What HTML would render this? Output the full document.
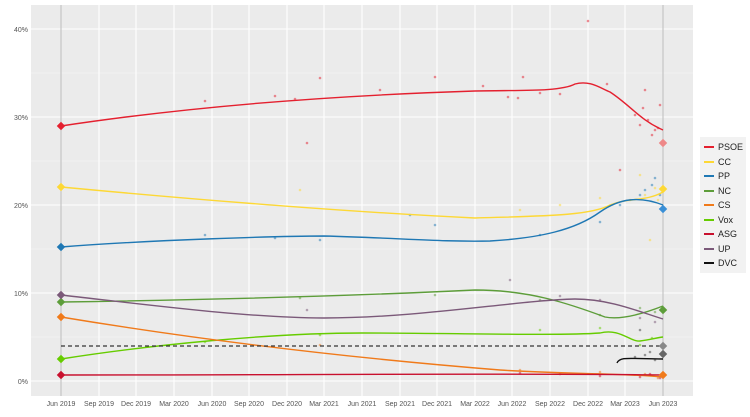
<!DOCTYPE html>
<html><head><meta charset="utf-8"><style>
body{margin:0;background:#fff}
svg{display:block;font-family:"Liberation Sans",sans-serif}
</style></head><body>
<svg width="750" height="417" viewBox="0 0 750 417">
<rect x="31" y="5" width="662" height="391" fill="#ebebeb"/>
<g stroke="#f5f5f5" stroke-width="0.6">
<line x1="31" x2="693" y1="337" y2="337"/><line x1="31" x2="693" y1="249" y2="249"/><line x1="31" x2="693" y1="161" y2="161"/><line x1="31" x2="693" y1="73" y2="73"/>
</g>
<g stroke="#fff" stroke-width="1.1">
<line x1="31" x2="693" y1="381" y2="381"/><line x1="31" x2="693" y1="293" y2="293"/><line x1="31" x2="693" y1="205" y2="205"/><line x1="31" x2="693" y1="117" y2="117"/><line x1="31" x2="693" y1="29" y2="29"/>
<line x1="61" x2="61" y1="5" y2="396"/><line x1="99" x2="99" y1="5" y2="396"/><line x1="136" x2="136" y1="5" y2="396"/><line x1="174" x2="174" y1="5" y2="396"/><line x1="212" x2="212" y1="5" y2="396"/><line x1="249" x2="249" y1="5" y2="396"/><line x1="287" x2="287" y1="5" y2="396"/><line x1="324" x2="324" y1="5" y2="396"/><line x1="362" x2="362" y1="5" y2="396"/><line x1="400" x2="400" y1="5" y2="396"/><line x1="437" x2="437" y1="5" y2="396"/><line x1="475" x2="475" y1="5" y2="396"/><line x1="512" x2="512" y1="5" y2="396"/><line x1="550" x2="550" y1="5" y2="396"/><line x1="588" x2="588" y1="5" y2="396"/><line x1="625" x2="625" y1="5" y2="396"/><line x1="663" x2="663" y1="5" y2="396"/>
</g>
<line x1="61" x2="61" y1="5" y2="396" stroke="#bbb" stroke-width="1"/>
<line x1="663" x2="663" y1="5" y2="396" stroke="#bbb" stroke-width="1"/>
<g fill="#555" font-size="7" text-anchor="end">
<text x="28" y="384">0%</text><text x="28" y="296">10%</text><text x="28" y="208">20%</text><text x="28" y="120">30%</text><text x="28" y="32">40%</text>
</g>
<g fill="#555" font-size="7" text-anchor="middle">
<text x="61" y="406">Jun 2019</text><text x="99" y="406">Sep 2019</text><text x="136" y="406">Dec 2019</text><text x="174" y="406">Mar 2020</text><text x="212" y="406">Jun 2020</text><text x="249" y="406">Sep 2020</text><text x="287" y="406">Dec 2020</text><text x="324" y="406">Mar 2021</text><text x="362" y="406">Jun 2021</text><text x="400" y="406">Sep 2021</text><text x="437" y="406">Dec 2021</text><text x="475" y="406">Mar 2022</text><text x="512" y="406">Jun 2022</text><text x="550" y="406">Sep 2022</text><text x="588" y="406">Dec 2022</text><text x="625" y="406">Mar 2023</text><text x="663" y="406">Jun 2023</text>
</g>
<g opacity="0.5">
<g fill="#e4202f">
<circle cx="205" cy="101" r="1.3"/><circle cx="275" cy="96" r="1.3"/><circle cx="295" cy="99" r="1.3"/><circle cx="320" cy="78" r="1.3"/><circle cx="435" cy="77" r="1.3"/><circle cx="523" cy="77" r="1.3"/><circle cx="588" cy="21" r="1.3"/><circle cx="607" cy="84" r="1.3"/><circle cx="645" cy="90" r="1.3"/><circle cx="655" cy="130" r="1.3"/><circle cx="307" cy="143" r="1.3"/><circle cx="508" cy="97" r="1.3"/><circle cx="540" cy="93" r="1.3"/><circle cx="380" cy="90" r="1.3"/><circle cx="483" cy="86" r="1.3"/><circle cx="518" cy="98" r="1.3"/><circle cx="560" cy="94" r="1.3"/><circle cx="635" cy="115" r="1.3"/><circle cx="640" cy="125" r="1.3"/><circle cx="648" cy="120" r="1.3"/><circle cx="652" cy="135" r="1.3"/><circle cx="658" cy="128" r="1.3"/><circle cx="660" cy="105" r="1.3"/><circle cx="643" cy="108" r="1.3"/><circle cx="620" cy="170" r="1.3"/>
</g>
<g fill="#fdd835">
<circle cx="300" cy="190" r="1.3"/><circle cx="520" cy="210" r="1.3"/><circle cx="640" cy="175" r="1.3"/><circle cx="650" cy="240" r="1.3"/><circle cx="560" cy="205" r="1.3"/><circle cx="600" cy="198" r="1.3"/><circle cx="630" cy="200" r="1.3"/><circle cx="645" cy="195" r="1.3"/><circle cx="655" cy="188" r="1.3"/><circle cx="658" cy="200" r="1.3"/>
</g>
<g fill="#1f78b4">
<circle cx="205" cy="235" r="1.3"/><circle cx="410" cy="215" r="1.3"/><circle cx="640" cy="195" r="1.3"/><circle cx="652" cy="185" r="1.3"/><circle cx="275" cy="238" r="1.3"/><circle cx="320" cy="240" r="1.3"/><circle cx="435" cy="225" r="1.3"/><circle cx="540" cy="235" r="1.3"/><circle cx="600" cy="222" r="1.3"/><circle cx="620" cy="205" r="1.3"/><circle cx="645" cy="190" r="1.3"/><circle cx="655" cy="178" r="1.3"/><circle cx="660" cy="195" r="1.3"/>
</g>
<g fill="#5d9d3a">
<circle cx="300" cy="298" r="1.3"/><circle cx="435" cy="295" r="1.3"/><circle cx="540" cy="300" r="1.3"/><circle cx="600" cy="315" r="1.3"/><circle cx="640" cy="308" r="1.3"/><circle cx="655" cy="312" r="1.3"/>
</g>
<g fill="#66cc00">
<circle cx="205" cy="342" r="1.3"/><circle cx="320" cy="335" r="1.3"/><circle cx="540" cy="330" r="1.3"/><circle cx="600" cy="328" r="1.3"/><circle cx="640" cy="345" r="1.3"/><circle cx="652" cy="338" r="1.3"/>
</g>
<g fill="#f07a1a">
<circle cx="320" cy="345" r="1.3"/><circle cx="520" cy="370" r="1.3"/><circle cx="600" cy="372" r="1.3"/><circle cx="645" cy="374" r="1.3"/><circle cx="658" cy="378" r="1.3"/>
</g>
<g fill="#7b5979">
<circle cx="307" cy="310" r="1.3"/><circle cx="510" cy="280" r="1.3"/><circle cx="560" cy="296" r="1.3"/><circle cx="600" cy="300" r="1.3"/><circle cx="640" cy="318" r="1.3"/><circle cx="655" cy="322" r="1.3"/>
</g>
<g fill="#444">
<circle cx="640" cy="330" r="1.3"/><circle cx="645" cy="355" r="1.3"/><circle cx="635" cy="357" r="1.3"/><circle cx="650" cy="352" r="1.3"/><circle cx="655" cy="360" r="1.3"/>
</g>
<g fill="#c8102e">
<circle cx="520" cy="373" r="1.3"/><circle cx="560" cy="374" r="1.3"/><circle cx="600" cy="376" r="1.3"/><circle cx="640" cy="377" r="1.3"/><circle cx="650" cy="374" r="1.3"/><circle cx="660" cy="378" r="1.3"/>
</g>
</g>
<g fill="none" stroke-width="1.4">
<path d="M61,126 C200,105 350,95 475,91 C520,90 560,92 575,84 C590,80 600,88 610,92 C630,105 640,120 663,130" stroke="#e4202f"/>
<path d="M61,187 C200,200 350,212 475,218 C540,216 590,216 610,205 C630,197 645,202 663,192" stroke="#fdd835"/>
<path d="M61,247 C150,240 280,236 324,236 C400,238 440,242 490,241 C540,238 575,230 600,212 C620,198 640,196 663,205" stroke="#1f78b4"/>
<path d="M61,302 C200,300 350,296 475,290 C530,290 570,304 605,317 C620,320 640,315 663,306" stroke="#5d9d3a"/>
<path d="M61,359 C150,345 270,333 362,333 C450,333 560,336 600,333 C620,328 630,342 640,341 C650,340 655,338 663,337" stroke="#66cc00"/>
<path d="M61,317 C200,340 350,358 500,370 C560,374 620,373 663,377" stroke="#f07a1a"/>
<path d="M61,375 C300,375 500,373 663,375" stroke="#c8102e"/>
<path d="M61,295 C150,305 250,318 324,318 C420,318 520,300 575,299 C610,299 640,312 663,319" stroke="#7b5979"/>
<path d="M617,363 C620,356 630,359 663,359" stroke="#111"/>
</g>
<line x1="61" x2="663" y1="346" y2="346" stroke="#333" stroke-width="1.3" stroke-dasharray="4,3"/>
<g>
<rect x="58" y="123" width="6" height="6" transform="rotate(45 61 126)" fill="#e4202f"/>
<rect x="58" y="184" width="6" height="6" transform="rotate(45 61 187)" fill="#fdd835"/>
<rect x="58" y="244" width="6" height="6" transform="rotate(45 61 247)" fill="#1f78b4"/>
<rect x="58" y="299" width="6" height="6" transform="rotate(45 61 302)" fill="#5d9d3a"/>
<rect x="58" y="356" width="6" height="6" transform="rotate(45 61 359)" fill="#66cc00"/>
<rect x="58" y="314" width="6" height="6" transform="rotate(45 61 317)" fill="#f07a1a"/>
<rect x="58" y="372" width="6" height="6" transform="rotate(45 61 375)" fill="#c8102e"/>
<rect x="58" y="292" width="6" height="6" transform="rotate(45 61 295)" fill="#7b5979"/>
<rect x="660" y="140" width="6" height="6" transform="rotate(45 663 143)" fill="#e88"/>
<rect x="660" y="186" width="6" height="6" transform="rotate(45 663 189)" fill="#fdd835"/>
<rect x="660" y="206" width="6" height="6" transform="rotate(45 663 209)" fill="#3a8fd6"/>
<rect x="660" y="307" width="6" height="6" transform="rotate(45 663 310)" fill="#5d9d3a"/>
<rect x="660" y="372" width="6" height="6" transform="rotate(45 663 375)" fill="#f07a1a"/>
<rect x="660" y="343" width="6" height="6" transform="rotate(45 663 346)" fill="#888"/>
<rect x="660" y="351" width="6" height="6" transform="rotate(45 663 354)" fill="#666"/>
</g>
<rect x="700" y="137" width="46" height="136" fill="#f2f2f2"/>
<g stroke-width="2">
<line x1="704" x2="714" y1="147" y2="147" stroke="#e4202f"/>
<line x1="704" x2="714" y1="162" y2="162" stroke="#fdd835"/>
<line x1="704" x2="714" y1="176" y2="176" stroke="#1f78b4"/>
<line x1="704" x2="714" y1="191" y2="191" stroke="#5d9d3a"/>
<line x1="704" x2="714" y1="205" y2="205" stroke="#f07a1a"/>
<line x1="704" x2="714" y1="220" y2="220" stroke="#66cc00"/>
<line x1="704" x2="714" y1="234" y2="234" stroke="#c8102e"/>
<line x1="704" x2="714" y1="249" y2="249" stroke="#7b5979"/>
<line x1="704" x2="714" y1="263" y2="263" stroke="#111"/>
</g>
<g font-size="9" fill="#222">
<text x="718" y="150">PSOE</text><text x="718" y="165">CC</text><text x="718" y="179">PP</text><text x="718" y="194">NC</text><text x="718" y="208">CS</text><text x="718" y="223">Vox</text><text x="718" y="237">ASG</text><text x="718" y="252">UP</text><text x="718" y="266">DVC</text>
</g>
</svg>
</body></html>
